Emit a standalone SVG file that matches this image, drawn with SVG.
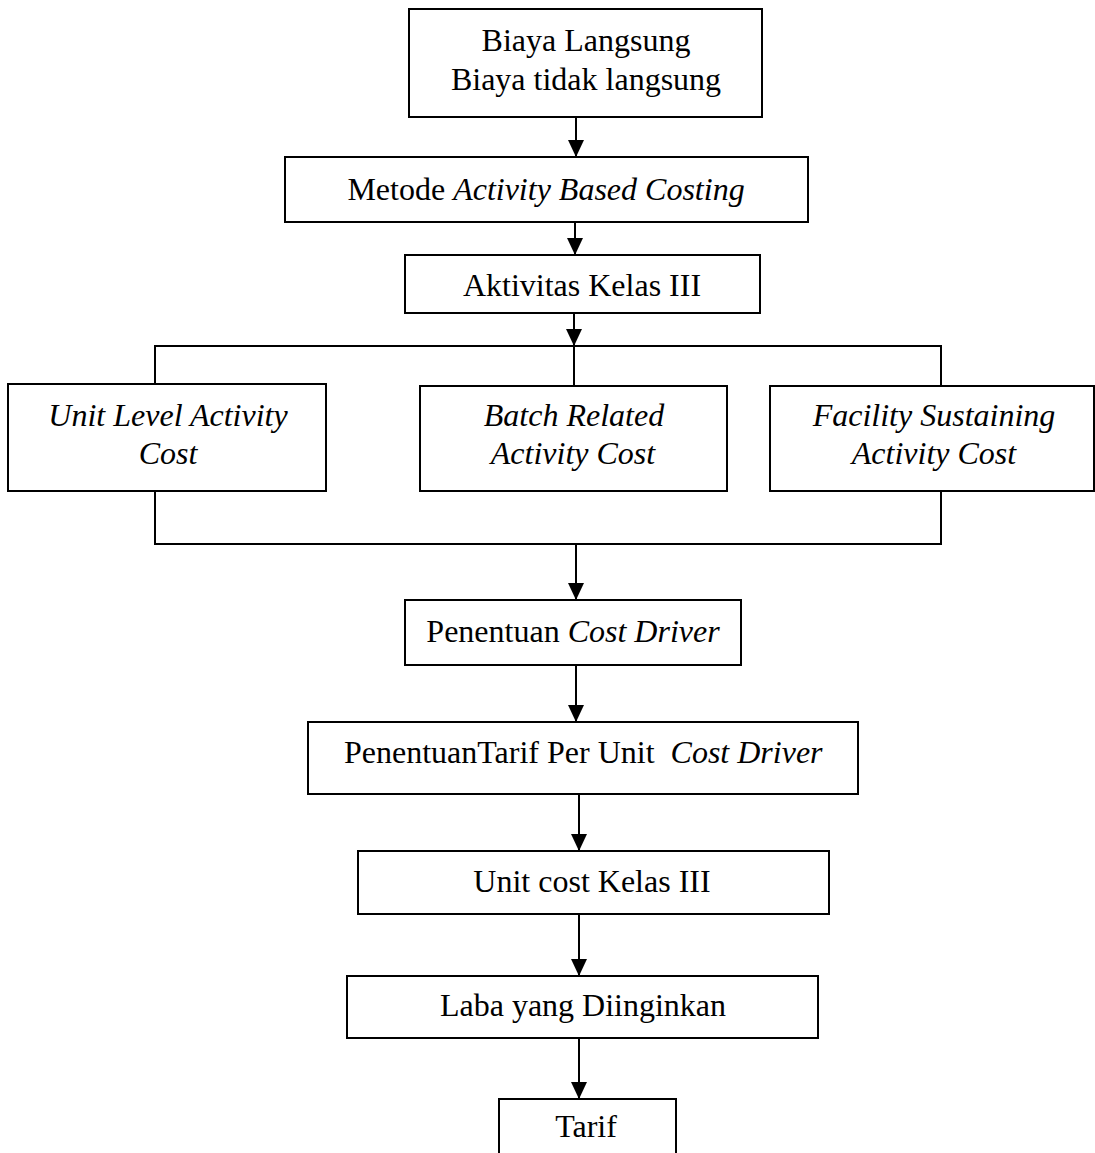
<svg xmlns="http://www.w3.org/2000/svg" width="1095" height="1153" viewBox="0 0 1095 1153">
<style>
.box{fill:#fff;stroke:#000;stroke-width:2}
.t{font-family:"Liberation Serif","Times New Roman",serif;font-size:32px;fill:#000;text-anchor:middle}
.i{font-style:italic}
.ln{fill:none;stroke:#000;stroke-width:2}
</style>
<defs>
<marker id="ah" markerUnits="userSpaceOnUse" markerWidth="18" markerHeight="18" viewBox="0 0 18 18" refX="17" refY="9" orient="auto">
<path d="M0,1 L17,9 L0,17 Z" fill="#000"/>
</marker>
</defs>
<rect width="1095" height="1153" fill="#fff"/>
<g id="connectors">
<line class="ln" x1="576" y1="117" x2="576" y2="157" marker-end="url(#ah)"/>
<line class="ln" x1="575" y1="222" x2="575" y2="255" marker-end="url(#ah)"/>
<line class="ln" x1="574" y1="313" x2="574" y2="346" marker-end="url(#ah)"/>
<polyline class="ln" points="155,385 155,346 941,346 941,386"/>
<line class="ln" x1="574" y1="346" x2="574" y2="386"/>
<polyline class="ln" points="155,491 155,544 941,544 941,491"/>
<line class="ln" x1="576" y1="544" x2="576" y2="600" marker-end="url(#ah)"/>
<line class="ln" x1="576" y1="665" x2="576" y2="722" marker-end="url(#ah)"/>
<line class="ln" x1="579" y1="794" x2="579" y2="851" marker-end="url(#ah)"/>
<line class="ln" x1="579" y1="914" x2="579" y2="976" marker-end="url(#ah)"/>
<line class="ln" x1="579" y1="1038" x2="579" y2="1099" marker-end="url(#ah)"/>
</g>
<g id="n1"><rect class="box" x="409" y="9" width="353" height="108"/>
<text class="t" x="586" y="51">Biaya Langsung</text>
<text class="t" x="586" y="90">Biaya tidak langsung</text></g>
<g id="n2"><rect class="box" x="285" y="157" width="523" height="65"/>
<text class="t" x="546" y="200">Metode <tspan class="i">Activity Based Costing</tspan></text></g>
<g id="n3"><rect class="box" x="405" y="255" width="355" height="58"/>
<text class="t" x="582" y="296">Aktivitas Kelas III</text></g>
<g id="n4"><rect class="box" x="8" y="384" width="318" height="107"/>
<text class="t i" x="168" y="426">Unit Level Activity</text>
<text class="t i" x="168" y="464">Cost</text></g>
<g id="n5"><rect class="box" x="420" y="386" width="307" height="105"/>
<text class="t i" x="574" y="426">Batch Related</text>
<text class="t i" x="573" y="464">Activity Cost</text></g>
<g id="n6"><rect class="box" x="770" y="386" width="324" height="105"/>
<text class="t i" x="934" y="426">Facility Sustaining</text>
<text class="t i" x="934" y="464">Activity Cost</text></g>
<g id="n7"><rect class="box" x="405" y="600" width="336" height="65"/>
<text class="t" x="573" y="642">Penentuan <tspan class="i">Cost Driver</tspan></text></g>
<g id="n8"><rect class="box" x="308" y="722" width="550" height="72"/>
<text class="t" x="344" y="763" style="text-anchor:start" xml:space="preserve">PenentuanTarif Per Unit  <tspan class="i">Cost Driver</tspan></text></g>
<g id="n9"><rect class="box" x="358" y="851" width="471" height="63"/>
<text class="t" x="592" y="892">Unit cost Kelas III</text></g>
<g id="n10"><rect class="box" x="347" y="976" width="471" height="62"/>
<text class="t" x="583" y="1016">Laba yang Diinginkan</text></g>
<g id="n11"><rect class="box" x="499" y="1099" width="177" height="70"/>
<text class="t" x="586" y="1137">Tarif</text></g>
</svg>
